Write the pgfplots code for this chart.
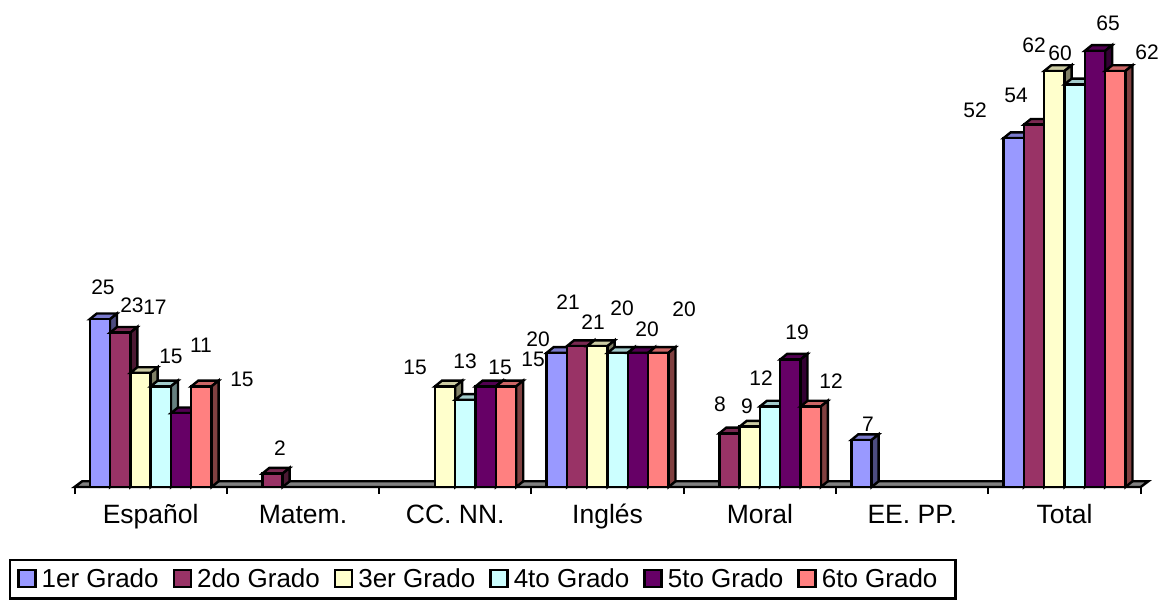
\documentclass[border=0pt]{standalone}
\usepackage{fontspec}
\setmainfont{Liberation Sans}
\usepackage{pgfplots}
\pgfplotsset{compat=1.18}
\definecolor{cA}{HTML}{9999FF}
\definecolor{cB}{HTML}{993366}
\definecolor{cC}{HTML}{FFFFCC}
\definecolor{cD}{HTML}{CCFFFF}
\definecolor{cE}{HTML}{660066}
\definecolor{cF}{HTML}{FF8080}
\newcommand{\DX}{0.046}
\newcommand{\DY}{0.85}
% #1 category, #2 series, #3 value, #4 colour
\newcommand{\B}[4]{%
  \pgfmathsetmacro\xa{#1+0.1+#2*0.13333}%
  \pgfmathsetmacro\xb{\xa+0.13333}%
  \pgfmathsetmacro\xad{\xa+\DX}%
  \pgfmathsetmacro\xbd{\xb+\DX}%
  \pgfmathsetmacro\vd{#3+\DY}%
  \pgfmathsetmacro\zd{\DY}%
  \addplot[forget plot,fill=#4!80!black,draw=black,line width=2.4pt] coordinates {(\xa,#3)(\xb,#3)(\xbd,\vd)(\xad,\vd)} -- cycle;
  \addplot[forget plot,fill=#4!50!black,draw=black,line width=2.4pt] coordinates {(\xb,0)(\xbd,\zd)(\xbd,\vd)(\xb,#3)} -- cycle;
  \addplot[forget plot,fill=#4,draw=black,line width=2.4pt] coordinates {(\xa,0)(\xb,0)(\xb,#3)(\xa,#3)} -- cycle;
}
\newcommand{\LB}[3]{\node[font=\fontsize{21}{23}\selectfont,inner sep=0pt,anchor=center] at (#1pt,{600pt-#2pt}) {#3};}
\begin{document}
\begin{tikzpicture}[x=1pt,y=1pt]
\path[use as bounding box] (0,0) rectangle (1162,600);
\begin{axis}[
  at={(74.5pt,113pt)},anchor=origin,
  scale only axis,width=1066.2pt,height=469.7pt,
  xmin=0,xmax=7,ymin=0,ymax=70,clip=false,
  axis y line=none,axis x line=bottom,
  axis line style={draw=none},
  x axis line style={-},
  xtick={0,1,2,3,4,5,6,7},
  xticklabels={Español,Matem.,CC. NN.,Inglés,Moral,EE. PP.,Total},
  x tick label as interval=true,
  major tick length=7pt,
  tick align=outside,
  tick style={black,line width=2pt},
  ticklabel style={font=\fontsize{26.5}{28}\selectfont,yshift=-6pt,text height=20pt,text depth=6pt},
  legend columns=6,
  legend cell align=left,
  legend style={at={(-65.5/1066.2,-112.5/469.7)},anchor=south west,draw=black,line width=2.4pt,
    inner xsep=7pt,inner ysep=7pt,font=\fontsize{26}{28}\selectfont,
    /tikz/every odd column/.append style={column sep=3pt},
    /tikz/every even column/.append style={column sep=12pt}},
  legend image code/.code={\draw[#1] (0pt,-8pt) rectangle (17pt,9pt);},
]
\addplot[forget plot,fill=gray,draw=black,line width=2.4pt] coordinates {(0,0)(7,0)(7.05,0.85)(0.05,0.85)} -- cycle;
\addlegendimage{fill=cA,draw=black,line width=2.4pt}\addlegendentry{1er Grado}
\addlegendimage{fill=cB,draw=black,line width=2.4pt}\addlegendentry{2do Grado}
\addlegendimage{fill=cC,draw=black,line width=2.4pt}\addlegendentry{3er Grado}
\addlegendimage{fill=cD,draw=black,line width=2.4pt}\addlegendentry{4to Grado}
\addlegendimage{fill=cE,draw=black,line width=2.4pt}\addlegendentry{5to Grado}
\addlegendimage{fill=cF,draw=black,line width=2.4pt}\addlegendentry{6to Grado\rule{9pt}{0pt}}
% Español
\B{0}{0}{25}{cA}\B{0}{1}{23}{cB}\B{0}{2}{17}{cC}\B{0}{3}{15}{cD}\B{0}{4}{11}{cE}\B{0}{5}{15}{cF}
% Matem.
\B{1}{1}{2}{cB}
% CC. NN.
\B{2}{2}{15}{cC}\B{2}{3}{13}{cD}\B{2}{4}{15}{cE}\B{2}{5}{15}{cF}
% Inglés
\B{3}{0}{20}{cA}\B{3}{1}{21}{cB}\B{3}{2}{21}{cC}\B{3}{3}{20}{cD}\B{3}{4}{20}{cE}\B{3}{5}{20}{cF}
% Moral
\B{4}{1}{8}{cB}\B{4}{2}{9}{cC}\B{4}{3}{12}{cD}\B{4}{4}{19}{cE}\B{4}{5}{12}{cF}
% EE. PP.
\B{5}{0}{7}{cA}
% Total
\B{6}{0}{52}{cA}\B{6}{1}{54}{cB}\B{6}{2}{62}{cC}\B{6}{3}{60}{cD}\B{6}{4}{65}{cE}\B{6}{5}{62}{cF}
\end{axis}
\LB{103}{287}{25}\LB{132}{305}{23}\LB{155}{307}{17}\LB{171}{356}{15}\LB{201}{345}{11}\LB{242}{379}{15}
\LB{280}{448}{2}
\LB{415}{367}{15}\LB{465}{361}{13}\LB{500}{367}{15}\LB{533}{359}{15}
\LB{538}{339}{20}\LB{568}{302}{21}\LB{593}{322}{21}\LB{622}{308}{20}\LB{647}{329}{20}\LB{684}{309}{20}
\LB{720}{404}{8}\LB{747}{406}{9}\LB{761}{378}{12}\LB{797}{332}{19}\LB{831}{381}{12}
\LB{868}{424}{7}
\LB{975}{110}{52}\LB{1016}{95}{54}\LB{1034}{45}{62}\LB{1060}{53}{60}\LB{1108}{23}{65}\LB{1147}{52}{62}
\end{tikzpicture}
\end{document}
